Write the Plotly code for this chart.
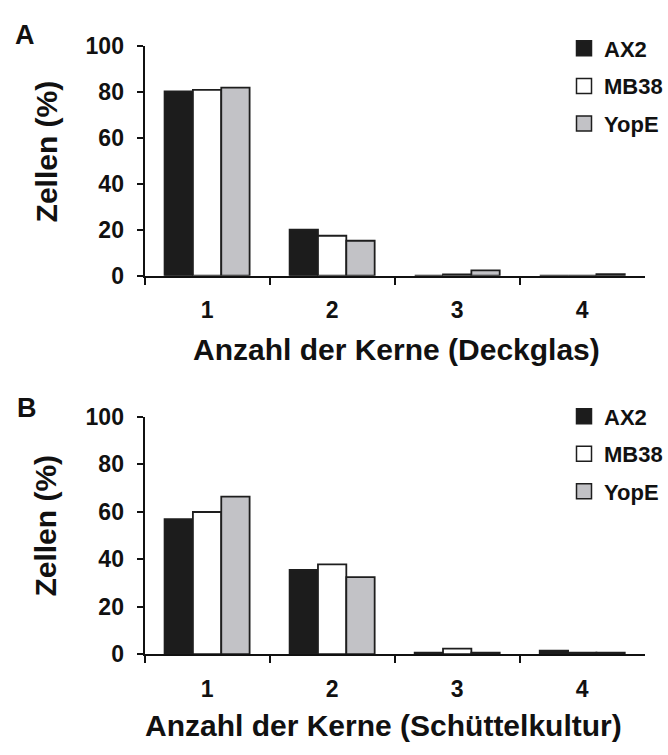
import plotly.graph_objects as go

categories = ["1", "2", "3", "4"]
series_names = ["AX2", "MB38", "YopE"]
series_colors = ["#1c1c1c", "#ffffff", "#c2c2c6"]

# Panel A (Deckglas)
a_ax2 = [80.3, 20.0, 0.0, 0.0]
a_mb38 = [81.0, 17.4, 0.5, 0.0]
a_yope = [82.0, 15.2, 2.3, 0.6]

# Panel B (Schüttelkultur)
b_ax2 = [56.9, 35.5, 0.6, 1.5]
b_mb38 = [59.9, 37.8, 2.3, 0.6]
b_yope = [66.4, 32.5, 0.6, 0.6]

y_ticks = [0, 20, 40, 60, 80, 100]
x_title_a = "Anzahl der Kerne (Deckglas)"
x_title_b = "Anzahl der Kerne (Schüttelkultur)"
y_title = "Zellen (%)"

W, H = 668, 755
FONT = "Liberation Sans, Arial, sans-serif"

fig = go.Figure()

panels = [
    ("x", "y", "legend", [a_ax2, a_mb38, a_yope]),
    ("x2", "y2", "legend2", [b_ax2, b_mb38, b_yope]),
]
for xa, ya, lg, vals in panels:
    for name, color, v in zip(series_names, series_colors, vals):
        fig.add_trace(go.Bar(
            x=categories, y=v, name=name, xaxis=xa, yaxis=ya,
            marker=dict(color=color, line=dict(color="#1e1e1e", width=1.8)),
            showlegend=False,
        ))
    for name, color in zip(series_names, series_colors):
        fig.add_trace(go.Scatter(
            x=[None], y=[None], name=name, xaxis=xa, yaxis=ya, mode="markers",
            marker=dict(symbol="square", size=15, color=color,
                        line=dict(color="#1e1e1e", width=1.5)),
            legend=lg, legendgroup=lg + name, showlegend=True,
        ))

xdom = [145 / W, 646.7 / W]
ydom_a = [(H - 272) / H, (H - 34.5) / H]
ydom_b = [(H - 664) / H, (H - 418.3) / H]

xcommon = dict(
    type="category", range=[-0.5, 3.5], domain=xdom,
    showline=True, linecolor="#111111", linewidth=2,
    ticks="outside", tickson="boundaries", ticklen=7, tickwidth=2, tickcolor="#111111",
    tickfont=dict(family=FONT, size=23, color="#111111", weight="bold"),
    ticklabelstandoff=13, showgrid=False, zeroline=False, fixedrange=True,
)
ycommon = dict(
    range=[0, 100], tickvals=y_ticks,
    showline=True, linecolor="#111111", linewidth=2,
    ticks="outside", ticklen=6, tickwidth=2, tickcolor="#111111",
    tickfont=dict(family=FONT, size=23, color="#111111", weight="bold"),
    ticklabelstandoff=8, showgrid=False, zeroline=False, fixedrange=True,
)

legend_common = dict(
    font=dict(family=FONT, size=22, color="#111111", weight="bold"),
    bgcolor="rgba(0,0,0,0)", itemsizing="trace", tracegroupgap=6,
    xanchor="left", yanchor="top", itemwidth=30,
)

fig.update_layout(
    width=W, height=H,
    margin=dict(l=0, r=0, t=0, b=0),
    paper_bgcolor="white", plot_bgcolor="white",
    barmode="group", bargap=0.32, bargroupgap=0,
    xaxis=dict(**xcommon, anchor="y"),
    yaxis=dict(**ycommon, domain=ydom_a, anchor="x"),
    xaxis2=dict(**xcommon, anchor="y2"),
    yaxis2=dict(**ycommon, domain=ydom_b, anchor="x2"),
    legend=dict(**legend_common, x=566 / W, y=1 - 15 / H),
    legend2=dict(**legend_common, x=566 / W, y=1 - 396 / H),
    showlegend=True,
)

ann_font_big = dict(family=FONT, size=30, color="#111111", weight="bold")
annotations = [
    dict(text="A", x=25.5 / W, y=1 - 23 / H, font=dict(family=FONT, size=27, color="#111111", weight="bold")),
    dict(text="B", x=27 / W, y=1 - 409 / H, font=dict(family=FONT, size=27, color="#111111", weight="bold")),
    dict(text=y_title, x=47 / W, y=1 - 143.5 / H, textangle=-90, font=ann_font_big),
    dict(text=y_title, x=46 / W, y=1 - 531 / H, textangle=-90, font=ann_font_big),
    dict(text=x_title_a, x=398 / W, y=1 - 349 / H, font=ann_font_big),
    dict(text=x_title_b, x=385 / W, y=1 - 738 / H, font=ann_font_big),
]
for a in annotations:
    a.update(xref="paper", yref="paper", showarrow=False, xanchor="center", yanchor="middle")
fig.update_layout(annotations=annotations)

fig.write_html("out.html")
